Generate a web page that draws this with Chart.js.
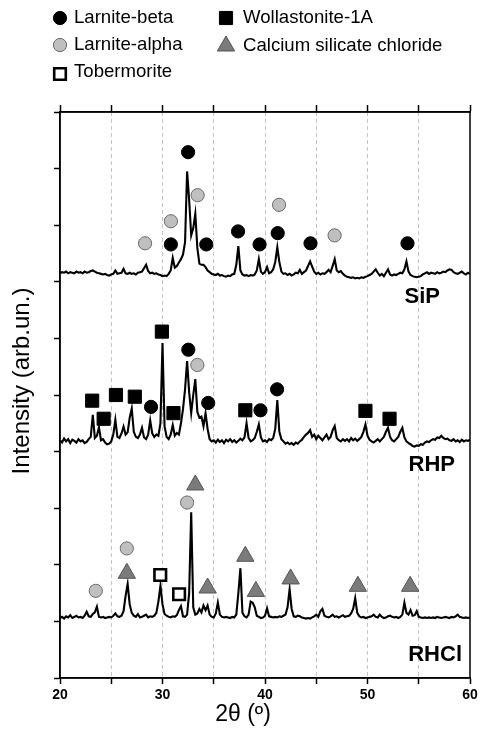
<!DOCTYPE html>
<html><head><meta charset="utf-8">
<script src="https://cdn.jsdelivr.net/npm/chart.js@4.4.1/dist/chart.umd.min.js"></script>
<style>html,body{margin:0;padding:0;background:#fff;}canvas{display:block;}</style>
</head><body>
<canvas id="c" width="481" height="732"></canvas>
<script>
// 2θ sampling (degrees)
const twoTheta = [
20,20.2,20.4,20.6,20.8,21,21.2,21.4,21.6,21.8,
22,22.2,22.4,22.6,22.8,23,23.2,23.4,23.6,23.8,
24,24.2,24.4,24.6,24.8,25,25.2,25.4,25.6,25.8,
26,26.2,26.4,26.6,26.8,27,27.2,27.4,27.6,27.8,
28,28.2,28.4,28.6,28.8,29,29.2,29.4,29.6,29.8,
30,30.2,30.4,30.6,30.8,31,31.2,31.4,31.6,31.8,
32,32.2,32.4,32.6,32.8,33,33.2,33.4,33.6,33.8,
34,34.2,34.4,34.6,34.8,35,35.2,35.4,35.6,35.8,
36,36.2,36.4,36.6,36.8,37,37.2,37.4,37.6,37.8,
38,38.2,38.4,38.6,38.8,39,39.2,39.4,39.6,39.8,
40,40.2,40.4,40.6,40.8,41,41.2,41.4,41.6,41.8,
42,42.2,42.4,42.6,42.8,43,43.2,43.4,43.6,43.8,
44,44.2,44.4,44.6,44.8,45,45.2,45.4,45.6,45.8,
46,46.2,46.4,46.6,46.8,47,47.2,47.4,47.6,47.8,
48,48.2,48.4,48.6,48.8,49,49.2,49.4,49.6,49.8,
50,50.2,50.4,50.6,50.8,51,51.2,51.4,51.6,51.8,
52,52.2,52.4,52.6,52.8,53,53.2,53.4,53.6,53.8,
54,54.2,54.4,54.6,54.8,55,55.2,55.4,55.6,55.8,
56,56.2,56.4,56.6,56.8,57,57.2,57.4,57.6,57.8,
58,58.2,58.4,58.6,58.8,59,59.2,59.4,59.6,59.8,60];

// Stacked intensities (arb. units, already offset as plotted)
const sipIntensity = [
7.15,7.17,7.16,7.18,7.15,7.17,7.16,7.15,7.18,7.16,
7.17,7.15,7.18,7.16,7.17,7.19,7.20,7.18,7.16,7.15,
7.14,7.13,7.14,7.12,7.11,7.13,7.14,7.20,7.14,7.15,
7.16,7.23,7.15,7.14,7.16,7.14,7.15,7.13,7.16,7.17,
7.18,7.24,7.30,7.19,7.15,7.16,7.14,7.15,7.13,7.12,
7.10,7.11,7.10,7.14,7.20,7.42,7.25,7.28,7.34,7.40,
7.48,7.70,8.95,8.45,7.82,7.95,8.20,7.60,7.32,7.30,
7.30,7.26,7.20,7.17,7.14,7.13,7.12,7.14,7.11,7.12,
7.10,7.09,7.11,7.10,7.13,7.14,7.30,7.63,7.20,7.13,
7.11,7.12,7.10,7.12,7.11,7.13,7.20,7.40,7.18,7.14,
7.17,7.26,7.15,7.17,7.22,7.35,7.61,7.35,7.18,7.14,
7.15,7.12,7.14,7.11,7.13,7.16,7.15,7.21,7.14,7.17,
7.20,7.28,7.36,7.27,7.18,7.14,7.16,7.13,7.15,7.14,
7.17,7.21,7.17,7.28,7.40,7.20,7.17,7.19,7.14,7.11,
7.09,7.08,7.07,7.08,7.06,7.07,7.06,7.08,7.07,7.09,
7.10,7.12,7.14,7.18,7.22,7.16,7.11,7.14,7.10,7.16,
7.22,7.13,7.11,7.13,7.12,7.14,7.16,7.15,7.22,7.36,
7.18,7.12,7.10,7.09,7.08,7.09,7.10,7.13,7.15,7.17,
7.14,7.16,7.15,7.14,7.17,7.15,7.16,7.18,7.17,7.20,
7.22,7.21,7.17,7.15,7.14,7.16,7.18,7.15,7.13,7.16,7.14];

const rhpIntensity = [
4.20,4.16,4.23,4.18,4.22,4.15,4.21,4.19,4.16,4.22,
4.18,4.20,4.15,4.17,4.22,4.26,4.65,4.24,4.28,4.43,
4.20,4.22,4.16,4.13,4.14,4.18,4.30,4.56,4.26,4.24,
4.32,4.44,4.30,4.34,4.60,4.76,4.35,4.26,4.24,4.30,
4.42,4.25,4.22,4.30,4.55,4.32,4.26,4.30,4.28,4.50,
5.92,4.45,4.26,4.22,4.30,4.47,4.28,4.33,4.30,4.50,
4.75,5.10,5.60,5.05,4.68,5.00,5.28,4.70,4.60,4.62,
4.45,4.68,4.40,4.22,4.18,4.20,4.16,4.21,4.17,4.20,
4.15,4.21,4.18,4.22,4.17,4.20,4.16,4.19,4.23,4.20,
4.25,4.50,4.24,4.18,4.20,4.24,4.35,4.48,4.25,4.18,
4.20,4.17,4.22,4.20,4.24,4.40,4.91,4.35,4.22,4.18,
4.14,4.16,4.13,4.15,4.12,4.16,4.14,4.18,4.21,4.26,
4.30,4.33,4.38,4.26,4.30,4.22,4.28,4.24,4.20,4.25,
4.30,4.22,4.26,4.38,4.45,4.24,4.20,4.18,4.22,4.19,
4.22,4.18,4.24,4.20,4.23,4.19,4.22,4.26,4.35,4.48,
4.28,4.21,4.18,4.16,4.19,4.22,4.18,4.22,4.26,4.35,
4.42,4.26,4.20,4.18,4.22,4.26,4.35,4.42,4.25,4.18,
4.15,4.13,4.10,4.09,4.11,4.10,4.13,4.12,4.16,4.18,
4.17,4.20,4.22,4.21,4.25,4.24,4.28,4.24,4.22,4.23,
4.20,4.19,4.22,4.18,4.20,4.17,4.21,4.18,4.20,4.19,4.21];

const rhclIntensity = [
1.06,1.08,1.05,1.09,1.07,1.11,1.06,1.08,1.10,1.07,
1.08,1.06,1.10,1.17,1.09,1.08,1.13,1.16,1.26,1.08,
1.07,1.08,1.06,1.07,1.08,1.07,1.10,1.14,1.09,1.08,
1.10,1.18,1.45,1.66,1.30,1.15,1.10,1.08,1.13,1.07,
1.08,1.10,1.12,1.07,1.09,1.08,1.10,1.15,1.35,1.63,
1.30,1.13,1.10,1.08,1.07,1.09,1.08,1.11,1.20,1.27,
1.09,1.08,1.12,1.50,2.93,1.25,1.12,1.14,1.22,1.16,
1.28,1.20,1.28,1.12,1.08,1.07,1.14,1.33,1.12,1.08,
1.07,1.08,1.07,1.06,1.08,1.07,1.12,1.50,1.94,1.15,
1.09,1.07,1.12,1.35,1.33,1.25,1.10,1.08,1.06,1.07,
1.10,1.23,1.09,1.08,1.07,1.08,1.07,1.09,1.08,1.10,
1.12,1.25,1.57,1.22,1.09,1.08,1.10,1.09,1.07,1.06,
1.05,1.06,1.05,1.07,1.09,1.12,1.08,1.18,1.22,1.10,
1.08,1.07,1.09,1.12,1.08,1.09,1.07,1.09,1.11,1.08,
1.09,1.10,1.14,1.22,1.41,1.15,1.09,1.07,1.08,1.06,
1.07,1.08,1.09,1.12,1.08,1.07,1.12,1.08,1.06,1.07,
1.09,1.10,1.08,1.07,1.08,1.06,1.08,1.12,1.33,1.15,
1.12,1.20,1.10,1.11,1.18,1.08,1.07,1.06,1.07,1.06,
1.07,1.06,1.07,1.06,1.08,1.07,1.06,1.07,1.08,1.07,
1.06,1.08,1.07,1.09,1.12,1.08,1.07,1.06,1.07,1.06,1.07];

const sampleNames = ['SiP', 'RHP', 'RHCl'];

// Phase markers: [2θ, plotted height]
const larniteBeta = [[30.82,7.66],[32.5,9.29],[34.27,7.66],[37.37,7.89],[39.47,7.66],[41.24,7.86],[44.44,7.68],[53.9,7.68],
  [28.88,4.79],[32.52,5.80],[34.46,4.86],[39.56,4.73],[41.18,5.10]];
const larniteAlpha = [[28.3,7.68],[30.82,8.07],[33.43,8.53],[41.37,8.36],[46.79,7.82],
  [33.40,5.53],[23.49,1.54],[26.52,2.29],[32.40,3.10]];
const wollastonite1A = [[23.14,4.90],[24.26,4.58],[25.46,5.00],[27.30,4.97],[29.94,6.12],[31.07,4.68],[38.08,4.73],[49.80,4.72],[52.15,4.58]];
const calciumSilicateChloride = [[26.52,1.85],[33.20,3.41],[34.40,1.59],[38.08,2.15],[39.11,1.53],[42.50,1.75],[49.06,1.62],[54.16,1.62]];
const tobermorite = [[29.78,1.82],[31.62,1.48]];

const phaseNames = ['Larnite-beta', 'Larnite-alpha', 'Tobermorite', 'Wollastonite-1A', 'Calcium silicate chloride'];
const xTickLabels = [20, 30, 40, 50, 60];

const FONT = "'Liberation Sans', Arial, sans-serif";
const toPts = arr => arr.map(p => ({x: p[0], y: p[1]}));
const tracePts = vals => twoTheta.map((x, i) => ({x, y: vals[i]}));

const markerStyles = {
  'Larnite-beta': {pointStyle: 'circle', radius: 6.6, bg: '#000000', border: '#000000', bw: 1},
  'Larnite-alpha': {pointStyle: 'circle', radius: 6.6, bg: '#bfbfbf', border: '#6a6a6a', bw: 1},
  'Tobermorite': {pointStyle: 'rect', radius: 8.2, bg: '#ffffff', border: '#000000', bw: 2.6},
  'Wollastonite-1A': {pointStyle: 'rect', radius: 9.3, bg: '#000000', border: '#000000', bw: 1},
  'Calcium silicate chloride': {pointStyle: 'triangle', radius: 10, bg: '#7b7b7b', border: '#555555', bw: 1}
};
const markerData = {
  'Larnite-beta': larniteBeta, 'Larnite-alpha': larniteAlpha, 'Tobermorite': tobermorite,
  'Wollastonite-1A': wollastonite1A, 'Calcium silicate chloride': calciumSilicateChloride
};

const datasets = [];
phaseNames.forEach(name => {
  const s = markerStyles[name];
  datasets.push({
    type: 'scatter', label: name, data: toPts(markerData[name]), order: 0,
    pointStyle: s.pointStyle, pointRadius: s.radius, pointHoverRadius: s.radius,
    backgroundColor: s.bg, borderColor: s.border, pointBorderWidth: s.bw, showLine: false
  });
});
[sipIntensity, rhpIntensity, rhclIntensity].forEach((vals, k) => {
  datasets.push({
    type: 'line', label: sampleNames[k], data: tracePts(vals), order: 1,
    borderColor: '#000', borderWidth: 2.1, pointRadius: 0, tension: 0, fill: false
  });
});

const overlay = {
  id: 'overlay',
  afterDraw(chart) {
    const ctx = chart.ctx, a = chart.chartArea;
    ctx.save();
    ctx.strokeStyle = '#000'; ctx.lineWidth = 1.5;
    ctx.strokeRect(a.left, a.top, a.right - a.left, a.bottom - a.top);

    // legend
    const legendPos = {
      'Larnite-beta': [60, 18], 'Larnite-alpha': [60, 45], 'Tobermorite': [60, 74],
      'Wollastonite-1A': [226, 18], 'Calcium silicate chloride': [226, 46]
    };
    phaseNames.forEach(name => {
      const s = markerStyles[name], p = legendPos[name];
      ctx.fillStyle = s.bg; ctx.strokeStyle = s.border; ctx.lineWidth = s.bw;
      Chart.helpers.drawPoint(ctx, {pointStyle: s.pointStyle, radius: s.radius, rotation: 0, borderWidth: s.bw}, p[0], p[1]);
      ctx.fillStyle = '#000';
      ctx.font = '18.6px ' + FONT;
      ctx.textAlign = 'left'; ctx.textBaseline = 'middle';
      ctx.fillText(name, p[0] + (p[0] < 100 ? 14 : 17), p[1] - (name === 'Tobermorite' ? 2 : 0));
    });

    // sample labels
    ctx.font = 'bold 22px ' + FONT;
    ctx.textAlign = 'right'; ctx.textBaseline = 'middle';
    const lblPos = [[440, 297], [455, 465], [462, 655]];
    sampleNames.forEach((n, i) => ctx.fillText(n, lblPos[i][0], lblPos[i][1]));

    // axis titles
    ctx.textAlign = 'center';
    ctx.font = '23px ' + FONT;
    ctx.fillText('2θ (º)', 243, 715);
    ctx.save();
    ctx.translate(22, 381); ctx.rotate(-Math.PI / 2);
    ctx.font = '24px ' + FONT;
    ctx.fillText('Intensity (arb.un.)', 0, 0);
    ctx.restore();
    ctx.restore();
  }
};

new Chart(document.getElementById('c'), {
  data: {datasets},
  plugins: [overlay],
  options: {
    responsive: false, animation: false, devicePixelRatio: 1,
    layout: {padding: {left: 0, right: 8, top: 0, bottom: 0}},
    plugins: {legend: {display: false}, tooltip: {enabled: false}},
    scales: {
      x: {
        type: 'linear', position: 'bottom', min: 20, max: 60,
        afterFit: s => { s.height = 54; s.paddingLeft = 0; s.paddingRight = 0; },
        ticks: {
          stepSize: 5, autoSkip: false, maxRotation: 0, padding: 3, color: '#000',
          font: {family: FONT, size: 14, weight: 'bold'},
          callback: v => xTickLabels.includes(v) ? String(v) : ''
        },
        grid: {
          drawOnChartArea: true, drawTicks: true, tickLength: 6, tickColor: '#000', tickWidth: 1.5,
          lineWidth: 1, tickBorderDash: [],
          color: c => (c.tick && (c.tick.value === 20 || c.tick.value === 60)) ? 'rgba(0,0,0,0)' : '#c4c4c4'
        },
        border: {display: true, color: '#000', width: 1.5, dash: [4, 3]}
      },
      xTop: {
        type: 'linear', position: 'top', min: 20, max: 60,
        afterFit: s => { s.height = 112; s.paddingLeft = 0; s.paddingRight = 0; },
        ticks: {stepSize: 5, display: false, autoSkip: false},
        grid: {drawOnChartArea: false, drawTicks: true, tickLength: 7, tickColor: '#000', tickWidth: 1.5},
        border: {display: true, color: '#000', width: 1.5}
      },
      y: {
        type: 'linear', position: 'left', min: 0, max: 10,
        afterFit: s => { s.width = 60; s.paddingTop = 0; s.paddingBottom = 0; },
        ticks: {stepSize: 1, display: false},
        grid: {drawOnChartArea: false, drawTicks: true, tickLength: 6, tickColor: '#000', tickWidth: 1.5},
        border: {display: true, color: '#000', width: 1.5}
      }
    }
  }
});
</script>
</body></html>
